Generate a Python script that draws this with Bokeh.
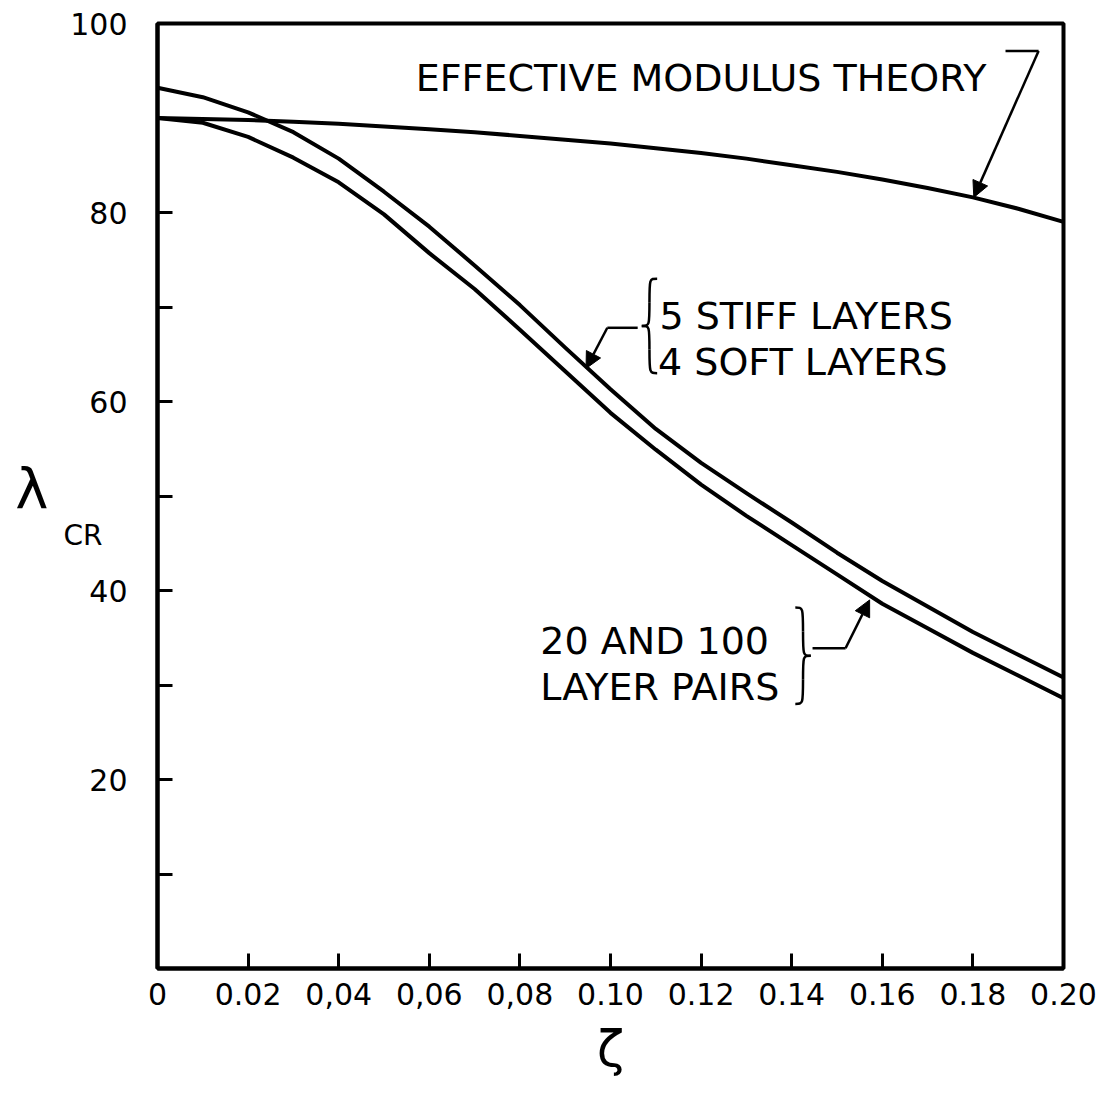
from bokeh.plotting import figure
from bokeh.models import Range1d, FixedTicker, Label, Arrow, NormalHead, LinearAxis
from bokeh.embed import file_html
from bokeh.resources import INLINE

# ---- data ----
xi = [0.00, 0.01, 0.02, 0.03, 0.04, 0.05, 0.06, 0.07, 0.08, 0.09, 0.10,
      0.11, 0.12, 0.13, 0.14, 0.15, 0.16, 0.17, 0.18, 0.19, 0.20]
effective_modulus = [90.0, 89.9, 89.8, 89.6, 89.4, 89.1, 88.8, 88.5, 88.1, 87.7, 87.3,
                     86.8, 86.3, 85.7, 85.0, 84.3, 83.5, 82.6, 81.6, 80.4, 79.0]
stiff5_soft4 = [93.2, 92.2, 90.6, 88.5, 85.7, 82.2, 78.5, 74.4, 70.2, 65.7, 61.3,
                57.1, 53.5, 50.3, 47.2, 44.0, 41.0, 38.3, 35.6, 33.2, 30.8]
pairs_20_100 = [90.0, 89.5, 88.0, 85.8, 83.2, 79.8, 75.7, 71.9, 67.6, 63.2, 58.8,
                54.9, 51.2, 47.9, 44.8, 41.7, 38.6, 36.0, 33.4, 31.0, 28.6]

x_ticks = [0.0, 0.02, 0.04, 0.06, 0.08, 0.10, 0.12, 0.14, 0.16, 0.18, 0.20]
x_tick_labels = ["0", "0.02", "0,04", "0,06", "0,08", "0.10", "0.12", "0.14", "0.16", "0.18", "0.20"]
y_ticks = [0, 20, 40, 60, 80, 100]
y_minor_ticks = [10, 30, 50, 70, 90]
y_tick_labels = ["", "20", "40", "60", "80", "100"]
y_title_main = "λ"
y_title_sub = "CR"

FONT = "DejaVu Sans"

p = figure(width=1109, height=1103, output_backend="svg", toolbar_location=None,
           x_range=Range1d(0, 0.20), y_range=Range1d(0, 100),
           min_border_left=157, min_border_right=46, min_border_top=23, min_border_bottom=135)
p.background_fill_color = "white"
p.border_fill_color = "white"
p.grid.visible = False
p.outline_line_color = "black"
p.outline_line_width = 4

# axes
xa = p.xaxis[0]
xa.ticker = FixedTicker(ticks=x_ticks)
xa.major_label_overrides = {t: l for t, l in zip(x_ticks, x_tick_labels)}
ya = p.yaxis[0]
ya.ticker = FixedTicker(ticks=y_ticks, minor_ticks=y_minor_ticks)
ya.major_label_overrides = {t: l for t, l in zip(y_ticks, y_tick_labels)}
for ax in (xa, ya):
    ax.axis_line_color = "black"
    ax.axis_line_width = 4
    ax.major_tick_in = 15
    ax.major_tick_out = 0
    ax.minor_tick_in = 15
    ax.minor_tick_out = 0
    ax.major_tick_line_width = 3
    ax.minor_tick_line_width = 3
    ax.major_tick_line_color = "black"
    ax.minor_tick_line_color = "black"
    ax.major_label_text_font = FONT
    ax.major_label_text_font_size = "30px"
    ax.major_label_text_color = "black"
xa.minor_tick_line_color = None
xa.major_label_standoff = 14
ya.major_label_standoff = 30
xa.axis_label = "ζ"
xa.axis_label_text_font = FONT
xa.axis_label_text_font_size = "50px"
xa.axis_label_text_font_style = "normal"
xa.axis_label_text_color = "black"
xa.axis_label_standoff = 12

# y-axis title lambda_CR, drawn as label-only axes outside the frame
def title_axis(pos, text, size, standoff):
    ax = LinearAxis(ticker=FixedTicker(ticks=[pos]), major_label_overrides={pos: text},
                    axis_line_color=None, major_tick_line_color=None, minor_tick_line_color=None,
                    major_tick_out=0, major_tick_in=0, minor_tick_out=0, minor_tick_in=0,
                    major_label_text_font=FONT, major_label_text_font_size=size,
                    major_label_text_color="black", major_label_standoff=standoff)
    p.add_layout(ax, "left")

title_axis(45.8, y_title_sub, "28px", -35)
title_axis(50.8, y_title_main, "56px", 12)

# curves
for ys in (effective_modulus, stiff5_soft4, pairs_20_100):
    p.line(xi, ys, line_color="black", line_width=4, line_join="round", line_cap="round")

# annotations
def lab(x, y, t, size="38px"):
    p.add_layout(Label(x=x, y=y, text=t, text_font=FONT, text_font_size=size,
                       text_baseline="alphabetic", text_color="black"))

lab(0.0570, 94.2, "EFFECTIVE MODULUS THEORY")
lab(0.1108, 69.1, "5 STIFF  LAYERS")
lab(0.1105, 64.2, "4 SOFT  LAYERS")
lab(0.0845, 34.7, "20 AND 100")
lab(0.0845, 29.8, "LAYER PAIRS")

def arrow(xs, ys, xe, ye):
    p.add_layout(Arrow(end=NormalHead(size=16, fill_color="black", line_color="black"),
                       x_start=xs, y_start=ys, x_end=xe, y_end=ye,
                       line_color="black", line_width=2.5))

# leader lines
p.segment(x0=[0.1872, 0.0993, 0.1446], y0=[97.1, 67.8, 33.9],
          x1=[0.1945, 0.1060, 0.1519], y1=[97.1, 67.8, 33.9],
          line_color="black", line_width=2.5)
arrow(0.1945, 97.1, 0.1802, 81.6)
arrow(0.0993, 67.8, 0.0946, 63.5)
arrow(0.1519, 33.9, 0.1572, 39.0)

# braces
def brace(xc, yt, yb, w, left=True):
    ym = (yt + yb) / 2
    s = 1 if left else -1
    tip = xc + s * w
    cusp = xc - s * w
    q1 = (yt + ym) / 2
    q2 = (yb + ym) / 2
    p.bezier(x0=[tip, xc, tip, xc], y0=[yt, q1, yb, q2],
             x1=[xc, cusp, xc, cusp], y1=[q1, ym, q2, ym],
             cx0=[xc, xc, xc, xc], cy0=[yt, ym, yb, ym],
             cx1=[xc, xc, xc, xc], cy1=[yt, ym, yb, ym],
             line_color="black", line_width=2.5)

brace(0.1086, 73.0, 63.0, 0.0017, left=True)
brace(0.1425, 38.2, 28.0, 0.0017, left=False)

open("out.html", "w").write(file_html(p, INLINE))
